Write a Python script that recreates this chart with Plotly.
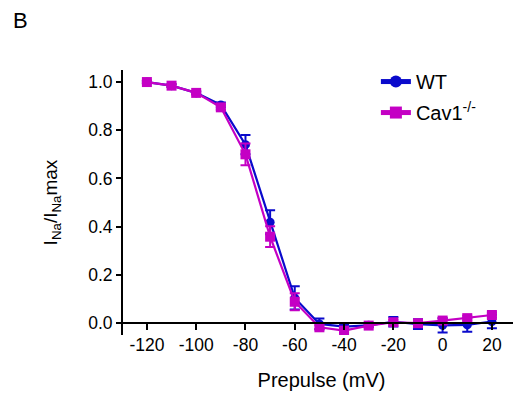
import plotly.graph_objects as go

prepulse = [-120, -110, -100, -90, -80, -70, -60, -50, -40, -30, -20, -10, 0, 10, 20]
wt_mean = [1.0, 0.985, 0.955, 0.905, 0.74, 0.418, 0.104, -0.004, -0.015, -0.01, 0.005, -0.005, -0.01, -0.008, 0.006]
wt_sem = [0.005, 0.006, 0.006, 0.01, 0.04, 0.05, 0.048, 0.022, 0.01, 0.008, 0.02, 0.02, 0.03, 0.028, 0.028]
cav_mean = [1.0, 0.985, 0.955, 0.895, 0.70, 0.358, 0.088, -0.018, -0.032, -0.011, 0.003, -0.001, 0.01, 0.02, 0.033]
cav_sem = [0.005, 0.006, 0.006, 0.01, 0.045, 0.043, 0.035, 0.008, 0.008, 0.006, 0.01, 0.008, 0.01, 0.01, 0.01]
x_ticks = [-120, -100, -80, -60, -40, -20, 0, 20]
x_ticklabels = ["-120", "-100", "-80", "-60", "-40", "-20", "0", "20"]
y_ticks = [0, 0.2, 0.4, 0.6, 0.8, 1.0]
y_ticklabels = ["0.0", "0.2", "0.4", "0.6", "0.8", "1.0"]

blue = "#0A0ACC"
mag = "#C400C4"

fig = go.Figure()
fig.add_trace(go.Scatter(
    x=prepulse, y=wt_mean, name="WT", mode="lines+markers", legendgroup="a",
    line=dict(color=blue, width=2.2),
    marker=dict(symbol="circle", size=9, color=blue),
    error_y=dict(type="data", array=wt_sem, color=blue, thickness=2, width=5),
))
fig.add_trace(go.Scatter(
    x=prepulse, y=cav_mean, name="Cav1<sup>-/-</sup>", mode="lines+markers", legendgroup="b",
    line=dict(color=mag, width=2.2),
    marker=dict(symbol="square", size=10, color=mag),
    error_y=dict(type="data", array=cav_sem, color=mag, thickness=2, width=5),
))

yr = [-0.05, 1.05]
fig.update_layout(
    width=521, height=396,
    margin=dict(l=115, r=9, t=62, b=69),
    paper_bgcolor="white", plot_bgcolor="white",
    font=dict(family="Liberation Sans, Arial, sans-serif", size=17.5, color="black"),
    showlegend=True,
    legend=dict(x=0.637, y=1.03, xanchor="left", yanchor="top",
                font=dict(size=20), bgcolor="rgba(0,0,0,0)", tracegroupgap=2,
                itemsizing="constant"),
    xaxis=dict(range=[-129.7, 31.4], tickvals=x_ticks, ticktext=x_ticklabels,
               showgrid=False, zeroline=False, showline=True, linecolor="black", linewidth=2,
               ticks="outside", ticklen=6, tickwidth=2, tickcolor="black", automargin=False,
               anchor="free", position=(0 - yr[0]) / (yr[1] - yr[0]),
               title=dict(text="Prepulse (mV)", font=dict(size=20), standoff=18)),
    yaxis=dict(range=yr, tickvals=y_ticks, ticktext=y_ticklabels,
               showgrid=False, zeroline=False, showline=True, linecolor="black", linewidth=2,
               ticks="outside", ticklen=5, tickwidth=2, tickcolor="black", automargin=False,
               title=dict(text="I<sub>Na</sub>/I<sub>Na</sub>max", font=dict(size=19), standoff=26)),
)
fig.add_annotation(text="B", xref="paper", yref="paper", x=(3 - 115) / 397, y=1 + (62 - 12) / 265,
                   xanchor="left", yanchor="middle", showarrow=False, font=dict(size=22))
fig.write_html("out.html")
